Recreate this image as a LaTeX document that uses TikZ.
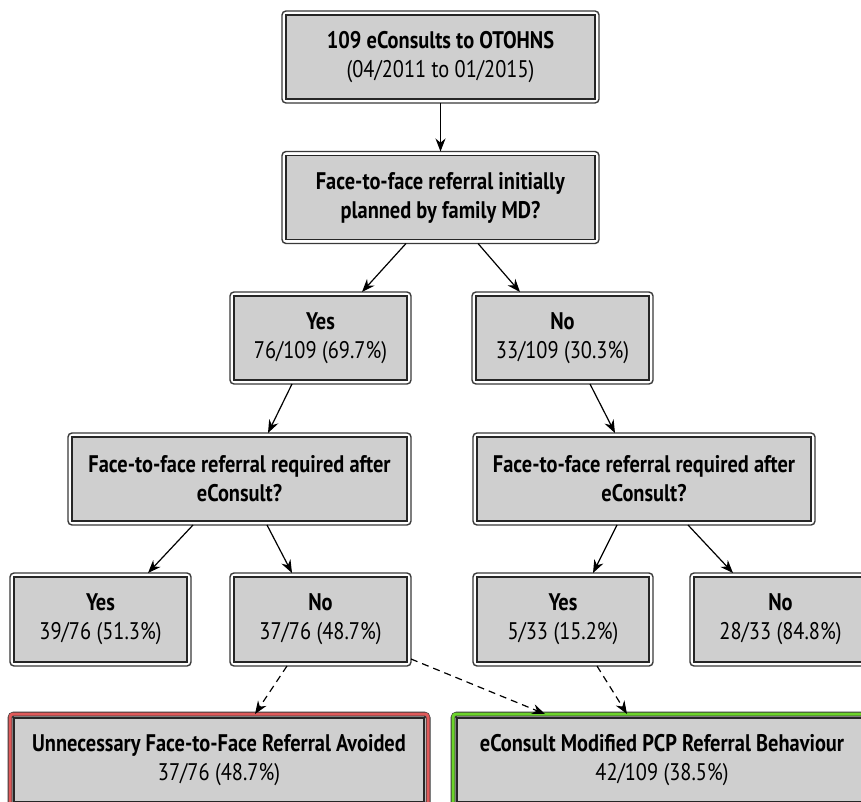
\documentclass[tikz,border=0pt]{standalone}
\usepackage{fontspec}
\setmainfont{PT Sans}[FakeStretch=0.85]
\usetikzlibrary{arrows.meta}
\definecolor{boxgray}{HTML}{CFCFCF}
\definecolor{boxline}{HTML}{262626}
\definecolor{frameline}{HTML}{3A3A3A}
\definecolor{redframe}{HTML}{E05A5A}
\definecolor{greenframe}{HTML}{6CD42A}
\newcommand\frameit[2][frm]{\draw[#1] (#2.north west) rectangle (#2.south east);}
\newcommand\hotframe[2]{%
  \draw[line width=5pt, draw=frameline, rounded corners=4pt] (#1.north west) rectangle (#1.south east);
  \draw[line width=3pt, draw=#2, rounded corners=3pt] (#1.north west) rectangle (#1.south east);}
\begin{document}
\begin{tikzpicture}[x=1pt,y=-1pt,
  box/.style={rectangle, fill=boxgray, draw=boxline, line width=1.3pt,
    minimum height=84pt, outer sep=4pt, inner sep=2pt, align=center,
    font=\fontsize{24}{29}\selectfont},
  frm/.style={draw=frameline, line width=1.4pt, rounded corners=4pt},
  arr/.style={-{Stealth[length=13pt,width=10pt]}, line width=1.2pt},
  dsh/.style={arr, dash pattern=on 7pt off 5pt}]
\useasboundingbox (0,0) rectangle (861,802);
\clip (0,0) rectangle (861,802);
\fill[white] (0,0) rectangle (861,802);

\node[box, minimum width=309pt] (top) at (440.5,57) {\textbf{109 eConsults to OTOHNS}\\(04/2011 to 01/2015)};
\node[box, minimum width=309pt] (q1) at (440.5,197.5) {\textbf{Face-to-face referral initially}\\\textbf{planned by family MD?}};
\node[box, minimum width=173pt] (yes1) at (320.5,338) {\textbf{Yes}\\76/109 (69.7\%)};
\node[box, minimum width=173pt] (no1) at (562.5,338) {\textbf{No}\\33/109 (30.3\%)};
\node[box, minimum width=335pt] (qL) at (239.5,479) {\textbf{Face-to-face referral required after}\\\textbf{eConsult?}};
\node[box, minimum width=334pt] (qR) at (644,479) {\textbf{Face-to-face referral required after}\\\textbf{eConsult?}};
\node[box, minimum width=173pt, minimum height=85pt] (yesL) at (100.5,619.5) {\textbf{Yes}\\39/76 (51.3\%)};
\node[box, minimum width=173pt, minimum height=85pt] (noL) at (320.5,619.5) {\textbf{No}\\37/76 (48.7\%)};
\node[box, minimum width=172pt, minimum height=85pt] (yesR) at (563,619.5) {\textbf{Yes}\\5/33 (15.2\%)};
\node[box, minimum width=173pt, minimum height=85pt] (noR) at (780.5,619.5) {\textbf{No}\\28/33 (84.8\%)};
\node[box, minimum width=410pt] (avoid) at (219,760) {\textbf{Unnecessary Face-to-Face Referral Avoided}\\37/76 (48.7\%)};
\node[box, minimum width=410pt] (mod) at (662,760) {\textbf{eConsult Modified PCP Referral Behaviour}\\42/109 (38.5\%)};

\foreach \n in {top,q1,yes1,no1,qL,qR,yesL,noL,yesR,noR}{\frameit{\n}}
\hotframe{avoid}{redframe}
\hotframe{mod}{greenframe}

\draw[arr] (top.south) -- (q1.north);
\draw[arr] ([xshift=-34.5pt]q1.south) -- ([xshift=41.5pt]yes1.north);
\draw[arr] ([xshift=37.5pt]q1.south) -- ([xshift=-42.5pt]no1.north);
\draw[arr] ([xshift=-28.5pt]yes1.south) -- ([xshift=28.5pt]qL.north);
\draw[arr] ([xshift=27.5pt]no1.south) -- ([xshift=-29pt]qR.north);
\draw[arr] ([xshift=-46.5pt]qL.south) -- ([xshift=47.5pt]yesL.north);
\draw[arr] ([xshift=27.5pt]qL.south) -- ([xshift=-28.5pt]noL.north);
\draw[arr] ([xshift=-27pt]qR.south) -- ([xshift=30pt]yesR.north);
\draw[arr] ([xshift=44pt]qR.south) -- ([xshift=-47.5pt]noR.north);
\draw[dsh] ([xshift=-33.5pt]noL.south) -- ([xshift=36pt]avoid.north);
\draw[dsh] ([yshift=7pt]noL.south east) -- ([xshift=-117pt]mod.north);
\draw[dsh] ([xshift=34pt]yesR.south) -- ([xshift=-35pt]mod.north);
\end{tikzpicture}
\end{document}
